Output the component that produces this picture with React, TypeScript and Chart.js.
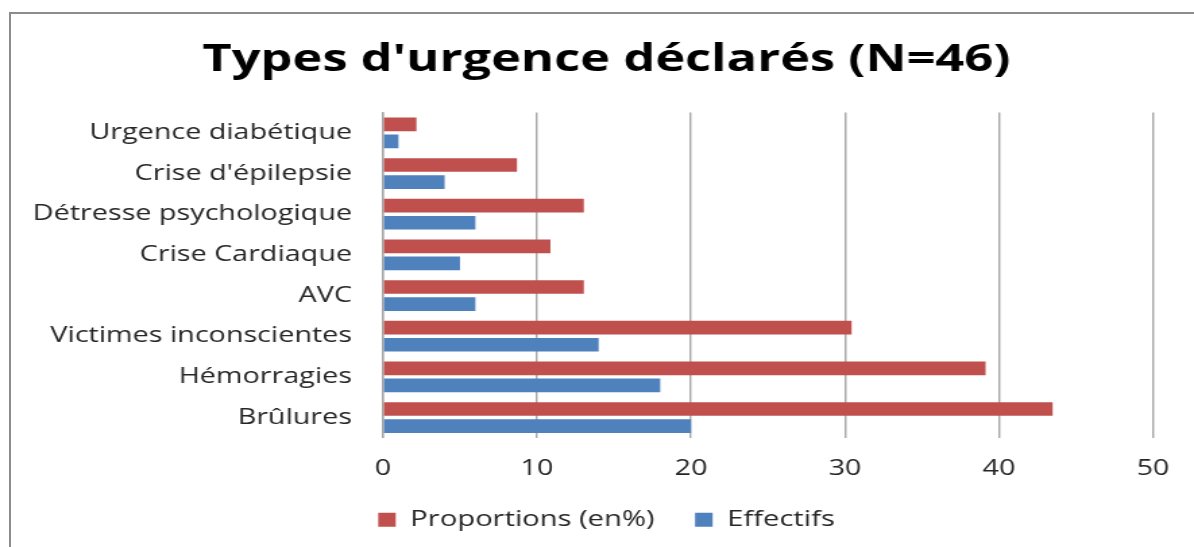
import React, { useEffect, useRef } from "react";
import { Chart, registerables } from "chart.js";

Chart.register(...registerables);

const chartTitle = "Types d'urgence déclarés (N=46)";
const categories = [
  "Urgence diabétique",
  "Crise d'épilepsie",
  "Détresse psychologique",
  "Crise Cardiaque",
  "AVC",
  "Victimes inconscientes",
  "Hémorragies",
  "Brûlures",
];
const seriesNames = ["Proportions (en%)", "Effectifs"];
const proportions = [2.17, 8.7, 13.04, 10.87, 13.04, 30.43, 39.13, 43.48];
const effectifs = [1, 4, 6, 5, 6, 14, 18, 20];
const xMin = 0;
const xMax = 50;
const xStep = 10;

const PAGE_W = 1194;
const PAGE_H = 547;
const INNER_W = 885;
const SX = PAGE_W / INNER_W;

// let the long category labels extend to the left of the axis box
const labelRoom = {
  id: "labelRoom",
  afterLayout(chart: any) {
    const y = chart.scales.y;
    if (y) y.left = 0;
  },
};

export default function App() {
  const canvasRef = useRef<HTMLCanvasElement | null>(null);

  useEffect(() => {
    if (!canvasRef.current) return;
    const tickFont = { family: "'Open Sans', sans-serif", size: 21.3 };
    const chart = new Chart(canvasRef.current, {
      type: "bar",
      data: {
        labels: categories,
        datasets: [
          {
            label: seriesNames[0],
            data: proportions,
            backgroundColor: "#C0504D",
            borderWidth: 0,
            categoryPercentage: 0.84,
            barPercentage: 0.8,
          },
          {
            label: seriesNames[1],
            data: effectifs,
            backgroundColor: "#4F81BD",
            borderWidth: 0,
            categoryPercentage: 0.84,
            barPercentage: 0.8,
          },
        ],
      },
      plugins: [labelRoom],
      options: {
        animation: false,
        responsive: true,
        maintainAspectRatio: false,
        indexAxis: "y",
        layout: { padding: { left: 44.4, right: 30.4, top: 0, bottom: 6.5 } },
        plugins: {
          title: {
            display: true,
            text: chartTitle,
            color: "#000000",
            font: { family: "'Open Sans', sans-serif", size: 37.5, weight: "bold" },
            padding: { top: 38, bottom: 29.5 },
          },
          legend: {
            position: "bottom",
            labels: {
              boxWidth: 13,
              boxHeight: 14,
              padding: 30,
              color: "#262626",
              font: { family: "'Open Sans', sans-serif", size: 21.6 },
            },
          },
          tooltip: { enabled: false },
        },
        scales: {
          x: {
            min: xMin,
            max: xMax,
            ticks: { stepSize: xStep, color: "#262626", font: tickFont, padding: 18 },
            grid: { color: "#a6a6a6", lineWidth: 1.4, drawTicks: false },
            border: { display: false },
            afterFit: (s: any) => {
              s.height = 41;
            },
          },
          y: {
            ticks: { color: "#262626", font: tickFont, padding: 23 },
            grid: { display: false, drawTicks: false },
            border: { display: true, color: "#a6a6a6", width: 1.4 },
            afterFit: (s: any) => {
              s.width = 239.5;
            },
          },
        },
      },
    });
    return () => chart.destroy();
  }, []);

  return (
    <div
      style={{
        position: "fixed",
        left: 0,
        top: 0,
        width: PAGE_W,
        height: PAGE_H,
        overflow: "hidden",
        background: "#ffffff",
      }}
    >
      <div
        style={{
          position: "absolute",
          left: 9,
          top: 12,
          width: PAGE_W + 20,
          height: PAGE_H + 20,
          borderLeft: "2px solid #8c8c8c",
          borderTop: "2px solid #8c8c8c",
        }}
      />
      <div
        style={{
          position: "absolute",
          left: 0,
          top: 0,
          width: INNER_W,
          height: PAGE_H,
          transform: `scaleX(${SX})`,
          transformOrigin: "0 0",
        }}
      >
        <canvas ref={canvasRef} />
      </div>
    </div>
  );
}
